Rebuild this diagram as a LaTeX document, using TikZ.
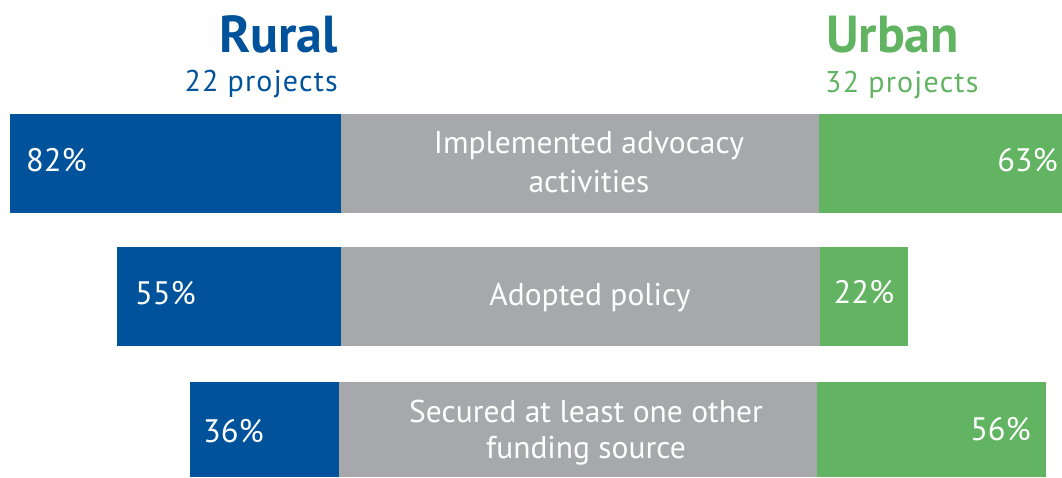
\documentclass[tikz,border=0pt]{standalone}
\usepackage{fontspec}
\setmainfont{PT Sans}
\definecolor{rblue}{HTML}{00529B}
\definecolor{ugreen}{HTML}{62B462}
\definecolor{mgray}{HTML}{A7A8AB}
\tikzset{
  bar/.style={draw=none, inner sep=0pt, outer sep=0pt, anchor=north west},
  pct/.style={text=white, inner sep=0pt, font=\fontsize{32.5}{38}\selectfont},
  lbl/.style={text=white, inner sep=0pt, align=center},
  head/.style={inner sep=0pt, font=\bfseries\fontsize{52}{60}\selectfont},
  sub/.style={inner sep=0pt, font=\fontsize{30}{34}\selectfont\addfontfeatures{LetterSpace=4}}
}
\begin{document}
\begin{tikzpicture}[x=1pt,y=-1pt]
\useasboundingbox (0,0) rectangle (1062,477);
% row 1
\node[bar, fill=rblue, minimum width=331pt, minimum height=99pt] (r1) at (10,114) {};
\node[bar, fill=mgray, minimum width=478pt, minimum height=99pt] (g1) at (341,114) {};
\node[bar, fill=ugreen, minimum width=243pt, minimum height=99pt] (u1) at (819,114) {};
% row 2
\node[bar, fill=rblue, minimum width=224pt, minimum height=99pt] (r2) at (117,247) {};
\node[bar, fill=mgray, minimum width=479pt, minimum height=99pt] (g2) at (341,247) {};
\node[bar, fill=ugreen, minimum width=88pt, minimum height=99pt] (u2) at (820,247) {};
% row 3
\node[bar, fill=rblue, minimum width=149pt, minimum height=95pt] (r3) at (190,382) {};
\node[bar, fill=mgray, minimum width=478pt, minimum height=95pt] (g3) at (339,382) {};
\node[bar, fill=ugreen, minimum width=229pt, minimum height=95pt] (u3) at (817,382) {};
% headers
\node[head, text=rblue, anchor=base east] (rural) at (338,52) {Rural};
\node[sub, text=rblue, anchor=base east] (rsub) at (338,91) {22 projects};
\node[head, text=ugreen, anchor=base west] (urban) at (826,52) {Urban};
\node[sub, text=ugreen, anchor=base west] (usub) at (825,92) {32 projects};
% percentages
\node[pct, anchor=base west] (p1) at (26,171) {82\%};
\node[pct, anchor=base east] (q1) at (1058,171) {63\%};
\node[pct, anchor=base west] (p2) at (135,304) {55\%};
\node[pct, anchor=base] (q2) at (864,303) {22\%};
\node[pct, anchor=base west] (p3) at (203,442) {36\%};
\node[pct, anchor=base east] (q3) at (1031,440) {56\%};
% labels
\node[lbl, anchor=base, font=\fontsize{31.5}{39}\selectfont] (l1) at (589,192) {Implemented advocacy\\activities};
\node[lbl, anchor=base, font=\fontsize{31.5}{36}\selectfont] (l2) at (590,305) {Adopted policy};
\node[lbl, anchor=base, font=\fontsize{31.5}{36}\selectfont] (l3) at (586,458) {Secured at least one other\\funding source};
\end{tikzpicture}
\end{document}
